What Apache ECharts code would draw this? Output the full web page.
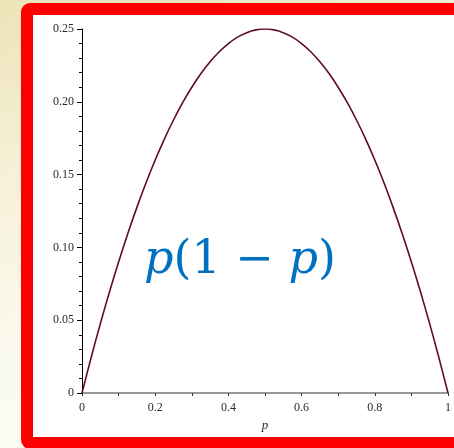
<!DOCTYPE html>
<html>
<head>
<meta charset="utf-8">
<script src="https://cdn.jsdelivr.net/npm/echarts@6/dist/echarts.min.js"></script>
<style>
  html, body { margin: 0; padding: 0; }
  body {
    width: 454px; height: 448px; overflow: hidden; position: relative;
    background: linear-gradient(160deg, #ede3b8 0%, #f6f1d8 30%, #fbfaf0 60%, #fcfbf3 100%);
  }
  #frame {
    position: absolute; left: 21px; top: 3px; width: 460px; height: 446px;
    box-sizing: border-box; border: 12px solid #ff0000; border-radius: 9px;
    background: #ffffff;
  }
  #chart { position: absolute; left: 0; top: 0; width: 454px; height: 448px; }
</style>
</head>
<body>
<div id="frame"></div>
<div id="chart"></div>
<script>
// values, p from 0 to 1 in steps of 0.025
const pValues = [0, 0.025, 0.05, 0.075, 0.1, 0.125, 0.15, 0.175, 0.2, 0.225, 0.25,
                 0.275, 0.3, 0.325, 0.35, 0.375, 0.4, 0.425, 0.45, 0.475, 0.5,
                 0.525, 0.55, 0.575, 0.6, 0.625, 0.65, 0.675, 0.7, 0.725, 0.75,
                 0.775, 0.8, 0.825, 0.85, 0.875, 0.9, 0.925, 0.95, 0.975, 1];
const curveValues = [0, 0.0244, 0.0475, 0.0694, 0.09, 0.1094, 0.1275, 0.1444, 0.16, 0.1744, 0.1875,
                     0.1994, 0.21, 0.2194, 0.2275, 0.2344, 0.24, 0.2444, 0.2475, 0.2494, 0.25,
                     0.2494, 0.2475, 0.2444, 0.24, 0.2344, 0.2275, 0.2194, 0.21, 0.1994, 0.1875,
                     0.1744, 0.16, 0.1444, 0.1275, 0.1094, 0.09, 0.0694, 0.0475, 0.0244, 0];
const xTicks = [0, 0.2, 0.4, 0.6, 0.8, 1];
const yTicks = ['0', '0.05', '0.10', '0.15', '0.20', '0.25'];

const chart = echarts.init(document.getElementById('chart'), null, { renderer: 'canvas' });

const tickFont = { fontFamily: 'Liberation Serif', fontSize: 12, color: '#2a2a2a' };

chart.setOption({
    animation: false,
    backgroundColor: 'transparent',
    grid: { left: 82, right: 6, top: 29, bottom: 55 },
    xAxis: {
        type: 'value',
        min: 0, max: 1, interval: 0.2,
        name: 'p',
        nameLocation: 'middle',
        nameGap: 26,
        nameTextStyle: { fontFamily: 'Liberation Serif', fontStyle: 'italic', fontSize: 13, color: '#2a2a2a' },
        axisLine: { onZero: false, lineStyle: { color: '#777', width: 1.5 } },
        axisTick: { show: true, inside: false, length: 3, lineStyle: { color: '#333' } },
        minorTick: { show: true, splitNumber: 2, length: 3, lineStyle: { color: '#333' } },
        axisLabel: Object.assign({ margin: 9, formatter: v => xTicks.includes(v) ? String(v) : '' }, tickFont),
        splitLine: { show: false },
    },
    yAxis: {
        type: 'value',
        min: 0, max: 0.25, interval: 0.05,
        axisLine: { show: true, lineStyle: { color: '#000', width: 1 } },
        axisTick: { show: true, length: 5, lineStyle: { color: '#000' } },
        minorTick: { show: true, splitNumber: 5, length: 3, lineStyle: { color: '#000' } },
        axisLabel: Object.assign({ margin: 8, formatter: v => yTicks[Math.round(v / 0.05)] }, tickFont),
        splitLine: { show: false },
    },
    series: [{
        type: 'line',
        data: pValues.map((p, i) => [p, curveValues[i]]),
        smooth: 0.3,
        symbol: 'none',
        lineStyle: { color: '#5e0c22', width: 1.6 },
        z: 3,
    }],
    graphic: [{
        type: 'text',
        left: 144,
        top: 238,
        style: {
            text: '{i|p}{n|(1 − }{i|p}{n|)}',
            rich: {
                i: { fontFamily: 'DejaVu Serif', fontStyle: 'italic', fontSize: 46, fill: '#0070c0' },
                n: { fontFamily: 'DejaVu Serif', fontSize: 46, fill: '#0070c0' },
            },
        },
    }],
});

window.addEventListener('resize', () => chart.resize());
</script>
</body>
</html>
